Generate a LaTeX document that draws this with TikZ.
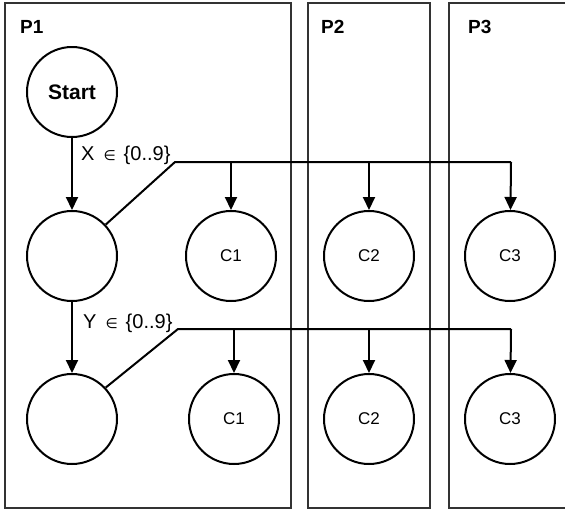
\documentclass[tikz,border=0pt]{standalone}
\usepackage{fontspec}
\setmainfont{Liberation Sans}
\newfontfamily\symfont{DejaVu Sans}
\usetikzlibrary{arrows.meta}
\tikzset{
  lane/.style={draw=black!80, line width=1.1pt},
  state/.style={circle, draw, line width=2pt, minimum size=90pt, inner sep=0pt, font=\fontsize{17}{20}\selectfont},
  startstate/.style={state, font=\fontsize{21}{25}\selectfont\bfseries},
  lanelabel/.style={anchor=base west, inner sep=0pt, font=\fontsize{19}{22}\selectfont\bfseries},
  edgelabel/.style={anchor=base west, inner sep=0pt, font=\fontsize{20}{23}\selectfont},
  conn/.style={line width=2pt},
  arr/.style={conn, -{Triangle[length=13pt,width=12pt]}},
}
\newcommand{\elem}{\hspace{9pt}{\symfont\fontsize{14}{16}\selectfont ∈}\hspace{8pt}}
\begin{document}
\begin{tikzpicture}[x=1pt,y=-1pt]
\useasboundingbox (0,0) rectangle (565,509);
% lanes
\draw[lane] (5,3) rectangle (291,508);
\draw[lane] (308,3) rectangle (430,508);
\draw[lane] (449,3) rectangle (575,508);
\node[lanelabel] (p1) at (20,33) {P1};
\node[lanelabel] (p2) at (321,33) {P2};
\node[lanelabel] (p3) at (468,33) {P3};
% states
\node[startstate] (start) at (72,92) {Start};
\node[state] (A) at (72,256) {};
\node[state] (B) at (72,419) {};
\node[state] (C1a) at (231,256) {C1};
\node[state] (C2a) at (369,256) {C2};
\node[state] (C3a) at (510,256) {C3};
\node[state] (C1b) at (234,419) {C1};
\node[state] (C2b) at (369,419) {C2};
\node[state] (C3b) at (510,419) {C3};
% edges
\draw[arr] (start) -- (A);
\draw[arr] (A) -- (B);
\node[edgelabel] (lx) at (81,160) {X\elem\{0..9\}};
\node[edgelabel] (ly) at (83,328) {Y\elem\{0..9\}};
% buses
\coordinate (k1) at (175,162);
\coordinate (e1) at (511,162);
\coordinate (k2) at (178,329);
\coordinate (e2) at (511,329);
\draw[conn] (A.43) -- (k1) -- (e1);
\draw[arr] (k1 -| C1a) -- (C1a);
\draw[arr] (k1 -| C2a) -- (C2a);
\draw[arr] (e1) -- (C3a);
\draw[conn] (B.43) -- (k2) -- (e2);
\draw[arr] (k2 -| C1b) -- (C1b);
\draw[arr] (k2 -| C2b) -- (C2b);
\draw[arr] (e2) -- (C3b);
\end{tikzpicture}
\end{document}
